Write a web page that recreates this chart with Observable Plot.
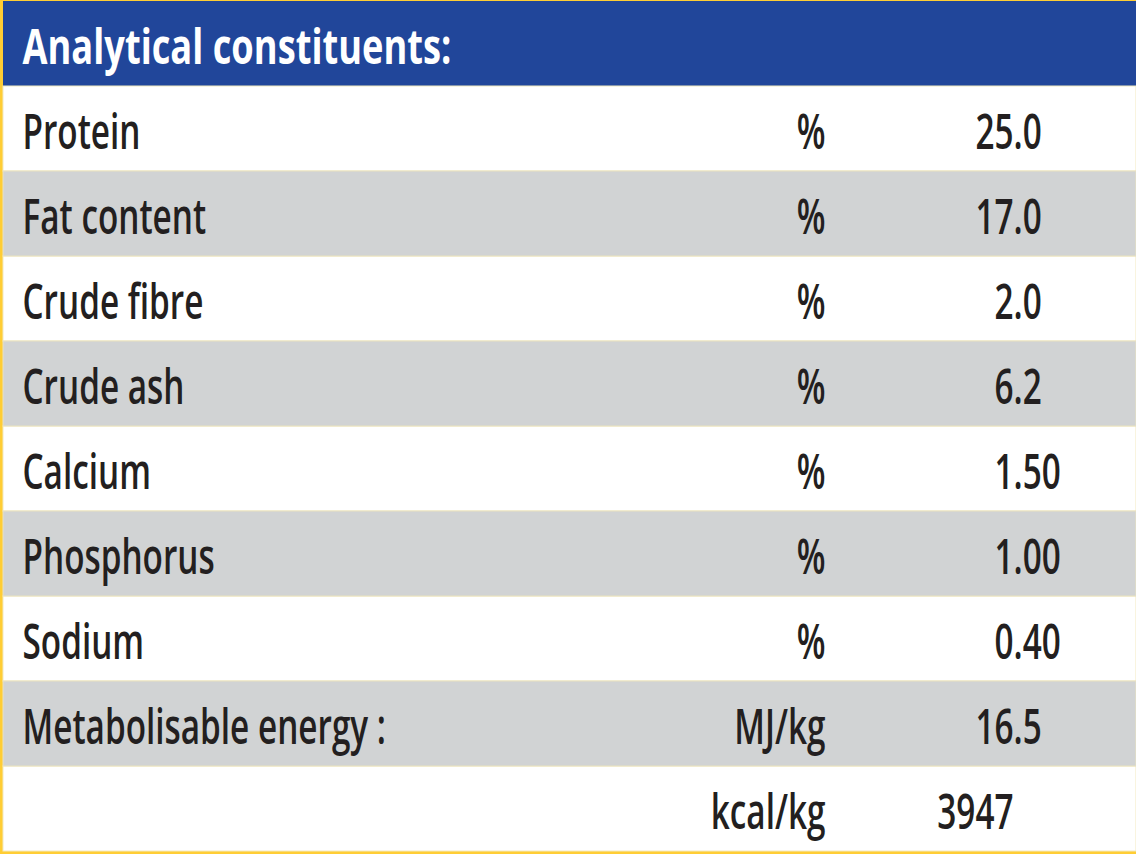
<!DOCTYPE html>
<html>
<head>
<meta charset="utf-8">
<script src="https://cdn.jsdelivr.net/npm/d3@7"></script>
<script src="https://cdn.jsdelivr.net/npm/@observablehq/plot@0.6"></script>
<style>
  html, body { margin: 0; padding: 0; background: #fff; }
  #chart svg { display: block; }
</style>
</head>
<body>
<div id="chart"></div>
<script>
const header = "Analytical constituents:";
const constituents = ["Protein", "Fat content", "Crude fibre", "Crude ash", "Calcium", "Phosphorus", "Sodium", "Metabolisable energy :", ""];
const units = ["%", "%", "%", "%", "%", "%", "%", "MJ/kg", "kcal/kg"];
const values = ["25.0", "17.0", "2.0", "6.2", "1.50", "1.00", "0.40", "16.5", "3947"];

const FONT = "'Open Sans', 'Noto Sans', sans-serif";
const INK = "#231f20";
const W = 1136, H = 854;
const FS = 49;
const SX = 0.68;   // horizontal condensing of body text
const SXH = 0.74;  // horizontal condensing of the header

const rows = constituents.map((c, i) => {
  const [ip, fp] = values[i].split(".");
  return { i, label: c, unit: units[i], intPart: ip, fracPart: fp !== undefined ? "." + fp : "" };
});

const common = { y: "i", fontSize: FS, dy: 4, fontWeight: 600, fill: INK };

const chart = Plot.plot({
  width: W,
  height: H,
  margin: 0,
  style: { background: "#ffcd34", fontFamily: FONT },
  x: { domain: [0, W], range: [0, W], axis: null },
  y: { type: "band", domain: d3.range(-1, rows.length), range: [1, 851], padding: 0, axis: null },
  marks: [
    Plot.barX([{ i: -1 }], { x1: 3, x2: W, y: "i", fill: "#21469a" }),
    Plot.barX(rows.filter(d => d.i % 2 === 0), { x1: 3, x2: W, y: "i", fill: "#ffffff", stroke: "#f2e9bf", strokeWidth: 1 }),
    Plot.barX(rows.filter(d => d.i % 2 === 1), { x1: 3, x2: W, y: "i", fill: "#d1d3d4", stroke: "#e9e2c0", strokeWidth: 1 }),
    Plot.text([{ i: -1, t: header }], { y: "i", fontSize: FS, dy: 4, x: 22, text: "t", textAnchor: "start", fill: "#ffffff", fontWeight: "bold", className: "hdr" }),
    Plot.text(rows, { ...common, x: 22, text: "label", textAnchor: "start" }),
    Plot.text(rows, { ...common, x: 825, text: "unit", textAnchor: "end" }),
    Plot.text(rows, { ...common, x: 1013, text: "intPart", textAnchor: "end" }),
    Plot.text(rows, { ...common, x: 1013, text: "fracPart", textAnchor: "start" })
  ]
});

// condense glyphs horizontally around each text's anchor point
d3.select(chart).selectAll("text").each(function () {
  const s = this.closest(".hdr") ? SXH : SX;
  const t = this.getAttribute("transform") || "";
  this.setAttribute("transform", t + ` scale(${s},1)`);
  const x = this.getAttribute("x");
  if (x !== null) this.setAttribute("x", +x / s);
});
document.getElementById("chart").appendChild(chart);
</script>
</body>
</html>
